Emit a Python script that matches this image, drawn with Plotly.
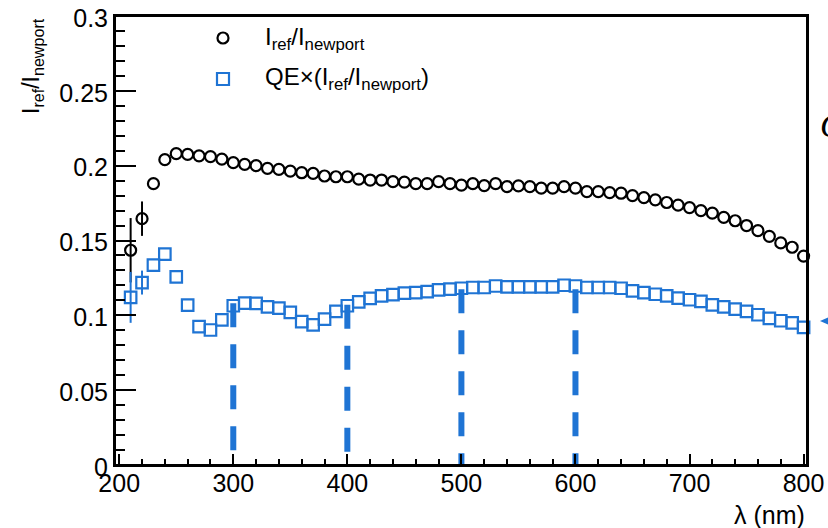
import plotly.graph_objects as go

# ---------------- data ----------------
wavelength = list(range(210, 801, 10))

ratio_ref_newport = [
    0.1435, 0.1646, 0.188, 0.204, 0.208, 0.2075, 0.2066, 0.206, 0.2044, 0.202,
    0.2009, 0.200, 0.1982, 0.1975, 0.1964, 0.1953, 0.1949, 0.1931, 0.1926, 0.1926,
    0.191, 0.1904, 0.1904, 0.1893, 0.189, 0.188, 0.188, 0.1893, 0.188, 0.187,
    0.188, 0.1867, 0.188, 0.186, 0.1865, 0.186, 0.185, 0.185, 0.186, 0.185,
    0.1827, 0.1827, 0.182, 0.1816, 0.180, 0.1787, 0.1772, 0.1754, 0.1736, 0.172,
    0.170, 0.1683, 0.1655, 0.1632, 0.160, 0.1566, 0.1528, 0.1484, 0.1455, 0.1396,
]
ratio_err = [0.0215, 0.0115] + [0.0] * 58

qe_times_ratio = [
    0.112, 0.1219, 0.1335, 0.1409, 0.1257, 0.1068, 0.0925, 0.0902, 0.097, 0.1064,
    0.1082, 0.108, 0.1057, 0.1048, 0.102, 0.0958, 0.0936, 0.0975, 0.1026, 0.1064,
    0.109, 0.1113, 0.113, 0.1139, 0.1148, 0.1152, 0.1159, 0.117, 0.1175, 0.1181,
    0.1186, 0.1186, 0.1196, 0.119, 0.119, 0.119, 0.119, 0.119, 0.1201, 0.1196,
    0.1186, 0.1186, 0.1186, 0.1181, 0.1163, 0.1152, 0.1141, 0.113, 0.1115, 0.1104,
    0.1093, 0.107, 0.1057, 0.1042, 0.1026, 0.1004, 0.098, 0.0964, 0.0949, 0.092,
]
qe_err = [0.017, 0.008] + [0.0] * 58

marker_lines_x = [300, 400, 500, 600]
marker_lines_top = [0.108, 0.107, 0.1175, 0.1175]

x_title = "λ (nm)"
y_title = "I<sub>ref</sub>/I<sub>newport</sub>"
legend_names = ["I<sub>ref</sub>/I<sub>newport</sub>",
                "QE×(I<sub>ref</sub>/I<sub>newport</sub>)"]

# ---------------- style ----------------
W, H = 828, 528
L, R, T, B = 115, 21, 16, 63
PW, PH = W - L - R, H - T - B
FONT = "Liberation Sans, Arial, Helvetica, sans-serif"
BLUE = "#1f74d4"


def px(xp):
    return (xp - L) / PW


def py(yp):
    return (H - B - yp) / PH


fig = go.Figure()

for xv, top in zip(marker_lines_x, marker_lines_top):
    fig.add_trace(go.Scatter(
        x=[xv, xv], y=[top, 0], mode="lines",
        line=dict(color=BLUE, width=6, dash="24px,17px"),
        showlegend=False, hoverinfo="skip"))

fig.add_trace(go.Scatter(
    x=wavelength, y=ratio_ref_newport, mode="markers",
    marker=dict(symbol="circle-open", size=11, color="black",
                line=dict(width=2.2, color="black")),
    error_y=dict(type="data", array=ratio_err, visible=True,
                 color="black", thickness=2, width=0),
    showlegend=False, cliponaxis=False))

fig.add_trace(go.Scatter(
    x=wavelength, y=qe_times_ratio, mode="markers",
    marker=dict(symbol="square-open", size=11.5, color=BLUE,
                line=dict(width=2.2, color=BLUE)),
    error_y=dict(type="data", array=qe_err, visible=True,
                 color=BLUE, thickness=2, width=0),
    showlegend=False, cliponaxis=False))

axis_common = dict(
    showline=True, linecolor="black", linewidth=2, mirror=True,
    ticks="inside", tickcolor="black", tickwidth=1.8,
    showgrid=False, zeroline=False, automargin=False,
    tickfont=dict(family=FONT, size=25, color="black"),
)

fig.update_xaxes(range=[196.3, 803], tick0=200, dtick=100, ticklen=11,
                 minor=dict(dtick=20, ticks="inside", ticklen=6,
                            tickcolor="black", tickwidth=1.8),
                 ticklabelstandoff=-5,
                 **axis_common)
fig.update_yaxes(range=[0, 0.30001], tick0=0, dtick=0.05, ticklen=21,
                 minor=dict(dtick=0.01, ticks="inside", ticklen=10,
                            tickcolor="black", tickwidth=1.8),
                 ticklabelstandoff=0, ticklabelshift=2,
                 **axis_common)

shapes = []
# frame
shapes.append(dict(type="rect", xref="paper", yref="paper", x0=0, x1=1, y0=0, y1=1,
                   line=dict(color="black", width=2), layer="above"))
# legend symbols
r = 5.5
shapes.append(dict(type="circle", xref="paper", yref="paper",
                   x0=px(223 - r), x1=px(223 + r), y0=py(38 + r), y1=py(38 - r),
                   line=dict(color="black", width=2.2)))
s = 6
shapes.append(dict(type="rect", xref="paper", yref="paper",
                   x0=px(223 - s), x1=px(223 + s), y0=py(79 + s), y1=py(79 - s),
                   line=dict(color=BLUE, width=2.2)))
# partial arrow marker at right edge
shapes.append(dict(type="path", xref="paper", yref="paper",
                   path=f"M {px(820)} {py(321)} L {px(834)} {py(315)} L {px(834)} {py(327)} Z",
                   fillcolor=BLUE, line=dict(width=0)))

annotations = [
    dict(text=legend_names[0], xref="paper", yref="paper", x=px(263), y=py(38),
         xanchor="left", yanchor="middle", showarrow=False,
         font=dict(family=FONT, size=24, color="black")),
    dict(text=legend_names[1], xref="paper", yref="paper", x=px(263), y=py(79),
         xanchor="left", yanchor="middle", showarrow=False,
         font=dict(family=FONT, size=24, color="black")),
    dict(text=x_title, xref="paper", yref="paper", x=1.0, y=py(515),
         xanchor="right", yanchor="middle", showarrow=False,
         font=dict(family=FONT, size=25, color="black")),
    dict(text=y_title, xref="paper", yref="paper", x=px(32), y=1.0,
         xanchor="center", yanchor="top", textangle=-90, showarrow=False,
         font=dict(family=FONT, size=23, color="black")),
    dict(text="<i>QE</i>", xref="paper", yref="paper", x=px(818), y=py(125),
         xanchor="left", yanchor="middle", showarrow=False,
         font=dict(family="Liberation Serif, Times New Roman, serif", size=34, color="black")),
]

fig.update_layout(
    template="none",
    width=W, height=H,
    margin=dict(l=L, r=R, t=T, b=B, pad=0, autoexpand=False),
    paper_bgcolor="white", plot_bgcolor="white",
    showlegend=False,
    shapes=shapes, annotations=annotations,
)

fig.write_html(
    "out.html",
    config={"displayModeBar": False},
    post_script="document.body.style.margin='0';document.body.style.padding='0';"
                "document.body.style.overflow='hidden';"
                "document.documentElement.style.overflow='hidden';",
)
